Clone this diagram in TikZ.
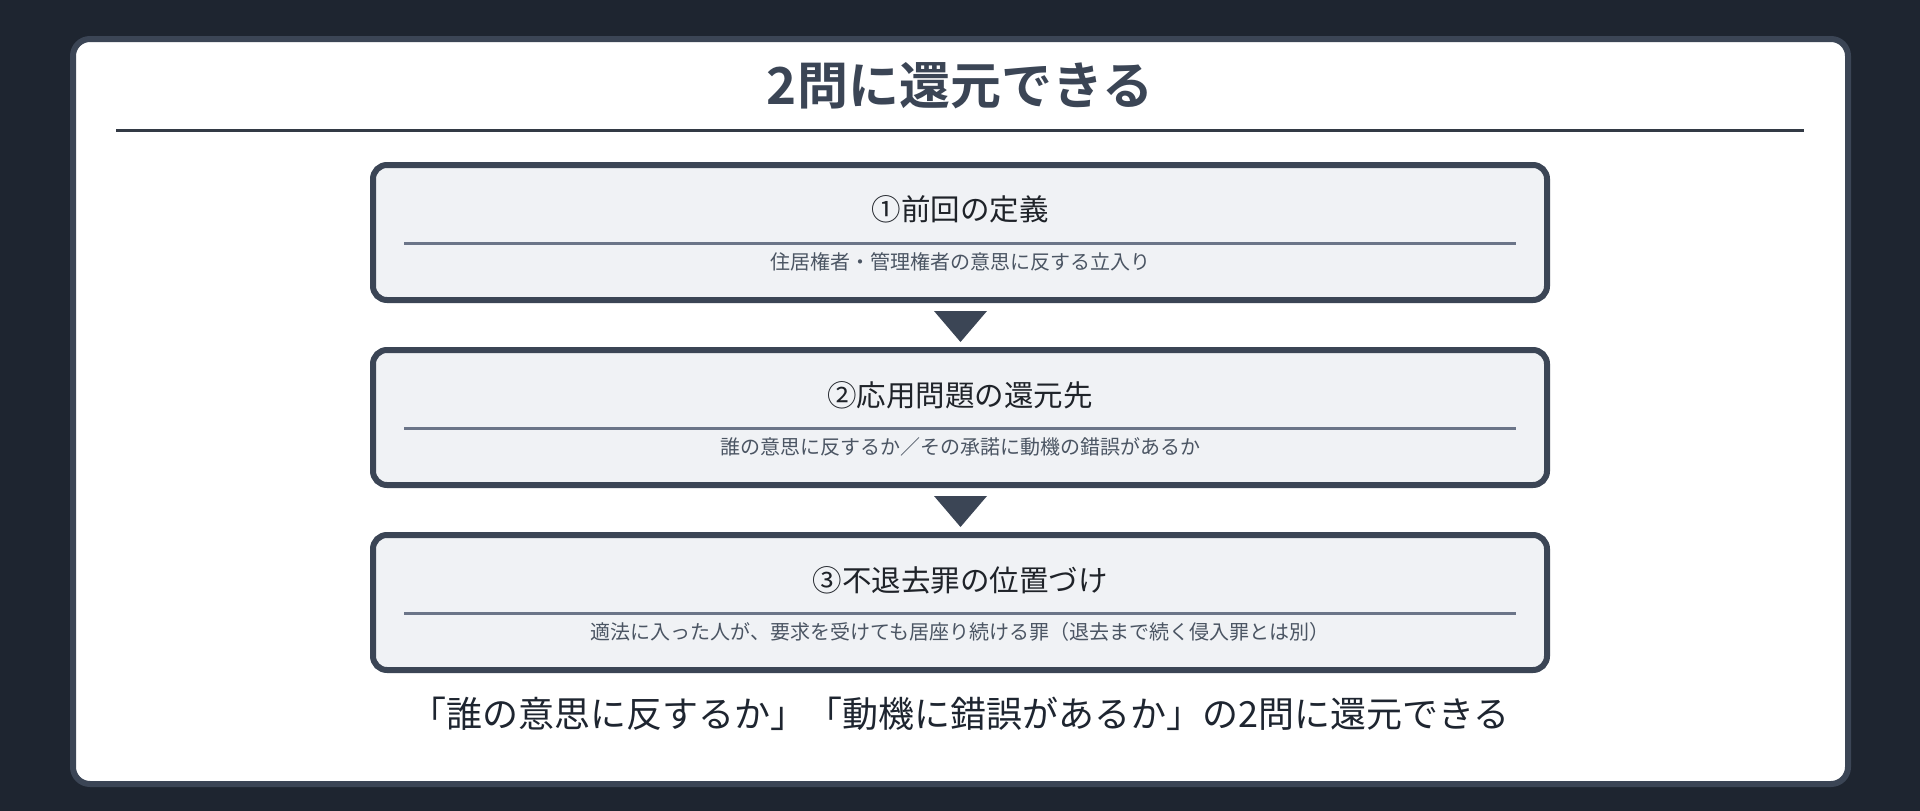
\documentclass[tikz,border=0pt]{standalone}
\usepackage{fontspec}
\setmainfont{Noto Sans CJK JP}[BoldFont={Noto Sans CJK JP Bold}]
\usepackage{xcolor}
\usepackage{tikz}
\usetikzlibrary{positioning}
\definecolor{bgdark}{HTML}{1E2530}
\definecolor{slate}{HTML}{3B4555}
\definecolor{rulec}{HTML}{333A45}
\definecolor{boxfill}{HTML}{F0F2F5}
\definecolor{linec}{HTML}{6B7588}
\definecolor{subc}{HTML}{4B5563}
\definecolor{inkc}{HTML}{1F2329}
\newcommand{\fs}[1]{\fontsize{#1}{#1}\selectfont}
\tikzset{
    stepbox/.style = {draw = slate, fill = boxfill, line width = 6pt, rounded corners = 14pt,
        minimum width = 1174pt, minimum height = 135pt, inner sep = 0pt},
    steptitle/.style = {text = inkc, inner sep = 0pt, font = \fs{29.5}},
    stepnote/.style = {text = subc, inner sep = 0pt, font = \fs{20}},
    steprule/.style = {draw = linec, line width = 2.7pt}
}

\begin{document}
\begin{tikzpicture}[x = 1pt, y = -1pt]
        \useasboundingbox (0, 0) rectangle (1920, 811);
        \fill[bgdark] (0, 0) rectangle (1920, 811);
        \filldraw[draw = slate, fill = white, line width = 6pt, rounded corners = 17pt]
            (73, 39) rectangle (1848, 784);

        \node[text = slate, inner sep = 0pt, font = \bfseries\fs{51}] (title) at (960, 86) {2問に還元できる};
        \draw[rulec, line width = 3pt] (116, 130.5) -- (1804, 130.5);

        \node[stepbox] (b1) at (960, 232.5) {};
        \node[steptitle] (t1) at (960, 209) {①前回の定義};
        \draw[steprule] (404, 243.3) -- (1516, 243.3);
        \node[stepnote] (n1) at (960, 262) {住居権者・管理権者の意思に反する立入り};

        \node[stepbox] (b2) at (960, 417.5) {};
        \node[steptitle] (t2) at (960, 395) {②応用問題の還元先};
        \draw[steprule] (404, 428.3) -- (1516, 428.3);
        \node[stepnote] (n2) at (960, 447) {誰の意思に反するか／その承諾に動機の錯誤があるか};

        \node[stepbox] (b3) at (960, 602.5) {};
        \node[steptitle] (t3) at (960, 580) {③不退去罪の位置づけ};
        \draw[steprule] (404, 613.3) -- (1516, 613.3);
        \node[stepnote] (n3) at (960, 632) {適法に入った人が、要求を受けても居座り続ける罪（退去まで続く侵入罪とは別）};

        \fill[slate] (934, 311) -- (987, 311) -- (960.5, 342) -- cycle;
        \fill[slate] (934, 496) -- (987, 496) -- (960.5, 527) -- cycle;

        \node[text = bgdark, inner sep = 0pt, font = \fs{36}] (foot) at (960, 714)
            {「誰の意思に反するか」「動機に錯誤があるか」の2問に還元できる};
    \end{tikzpicture}
\end{document}
